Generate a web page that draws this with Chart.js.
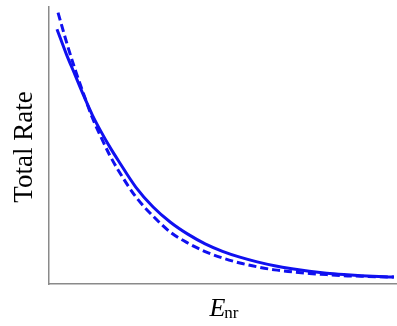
<!DOCTYPE html>
<html>
<head>
<meta charset="utf-8">
<script src="https://cdn.jsdelivr.net/npm/chart.js@4.4.1/dist/chart.umd.min.js"></script>
<style>
  html, body { margin: 0; padding: 0; background: #fff; }
  #wrap { width: 397px; height: 326px; position: relative; }
</style>
</head>
<body>
<div id="wrap"><canvas id="chart"></canvas></div>
<script>
// values (x and y both on a 0..100 scale, no ticks shown)
const solidX = [2.3, 5, 7.5, 10, 12.5, 15, 17.5, 20, 25, 30, 35, 40, 45, 50, 55, 60, 65, 70, 75, 80, 85, 90, 95, 99.4]
const solidY = [92, 83, 75.5, 68, 61, 55, 49.5, 44.5, 35, 27.8, 22.3, 18, 14.5, 11.8, 9.7, 8, 6.6, 5.5, 4.6, 3.9, 3.4, 3.0, 2.7, 2.5]

const dashedX = [2.6, 5, 7.5, 10, 12.5, 15, 17.5, 20, 25, 30, 35, 40, 45, 50, 55, 60, 65, 70, 75, 80, 85, 90, 95, 99.4]
const dashedY = [98, 87.5, 77.5, 68.5, 60, 53, 46.5, 41, 31.5, 24.5, 18.7, 14.8, 11.7, 9.4, 7.6, 6.2, 5.1, 4.4, 3.8, 3.4, 3.0, 2.8, 2.6, 2.5]

const yTitle = 'Total Rate'
const xTitle = 'E'
const xTitleSub = 'nr'

function toPoints(xs, ys) {
    return xs.map((x, i) => ({ x: x, y: ys[i] }))
}

// axis titles drawn by hand so the subscript can be set
const titlePlugin = {
    id: 'titles',
    afterDraw(chart) {
        const ctx = chart.ctx
        const area = chart.chartArea
        ctx.save()
        ctx.fillStyle = '#000'
        // y title
        ctx.font = '27px "Liberation Serif", serif'
        ctx.textAlign = 'center'
        ctx.textBaseline = 'middle'
        ctx.translate(25, 147)
        ctx.rotate(-Math.PI / 2)
        ctx.fillText(yTitle, 0, 0)
        ctx.restore()

        // x title: italic E with subscript nr
        ctx.save()
        ctx.fillStyle = '#000'
        ctx.textBaseline = 'alphabetic'
        ctx.textAlign = 'left'
        ctx.font = 'italic 26px "Liberation Serif", serif'
        const wE = ctx.measureText(xTitle).width
        ctx.font = '17px "Liberation Serif", serif'
        const wSub = ctx.measureText(xTitleSub).width
        const cx = (area.left + area.right) / 2 + 2
        const start = cx - (wE + wSub) / 2
        ctx.font = 'italic 26px "Liberation Serif", serif'
        ctx.fillText(xTitle, start, 316)
        ctx.font = '17px "Liberation Serif", serif'
        ctx.fillText(xTitleSub, start + wE - 1, 318)
        ctx.restore()
    }
}

const axisStyle = {
    type: 'linear',
    min: 0,
    max: 100,
    ticks: { display: false },
    grid: { display: false, drawTicks: false },
    border: { display: true, color: '#8a8a8a', width: 1.5 }
}

new Chart(document.getElementById('chart'), {
    type: 'line',
    data: {
        datasets: [{
            label: 'solid',
            data: toPoints(solidX, solidY),
            borderColor: '#1010f0',
            borderWidth: 3,
            pointRadius: 0,
            cubicInterpolationMode: 'monotone',
            fill: false
        }, {
            label: 'dashed',
            data: toPoints(dashedX, dashedY),
            borderColor: '#1010f0',
            borderWidth: 3,
            borderDash: [8, 4],
            pointRadius: 0,
            cubicInterpolationMode: 'monotone',
            fill: false
        }]
    },
    options: {
        responsive: true,
        maintainAspectRatio: false,
        animation: false,
        layout: { padding: { left: 49, right: 1, top: 7, bottom: 42 } },
        scales: {
            x: axisStyle,
            y: axisStyle
        },
        plugins: {
            legend: { display: false },
            tooltip: { enabled: false }
        }
    },
    plugins: [titlePlugin]
})
</script>
</body>
</html>
